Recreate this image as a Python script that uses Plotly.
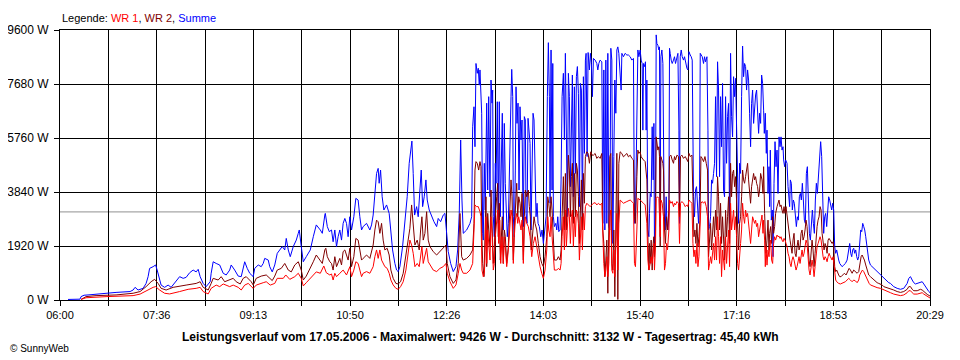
import plotly.graph_objects as go

# ---------------- data (minutes after 06:00, Watt) ----------------
x_tick_labels = ["06:00", "07:36", "09:13", "10:50", "12:26", "14:03", "15:40", "17:16", "18:53", "20:29"]
y_tick_values = [0, 1920, 3840, 5760, 7680, 9600]
total_minutes = 869
durchschnitt = 3132

t_summe = [8, 20, 21, 24, 28, 43, 56, 70, 73, 75, 78, 83, 86, 88, 89.5, 93, 95.5, 97, 99, 101, 104.5, 108, 111, 114.5, 116, 119.5, 123, 126, 129.5, 133, 136, 138, 140, 143, 146, 150, 151, 153, 156, 159.5, 163, 166, 169.5, 171, 174.5, 178, 181, 183, 184.5, 187, 189.5, 193, 194.5, 198, 201, 203, 204.5, 208, 209.5, 212, 214.5, 217, 219.5, 222, 224.5, 226, 228, 230, 233, 236, 238, 239, 241, 243, 246, 250, 253, 256, 260, 262, 264.5, 265, 267, 269,
           271.2, 272.8, 274.5, 276.2, 277.8, 279.5, 281.2, 282.8, 284.5, 286.2, 287.8, 289.5, 291.2, 293.5, 295.5, 297.8, 299.5, 301.2, 302.8, 306.2, 309.5, 311.2, 312.8, 314.5, 316.2, 317.8, 318.8, 320.2, 321.8, 323.5, 326.2, 328.8, 330.2, 332.2, 334.5, 336.2, 337.8, 339.5, 342.2, 344.5, 346.8, 348.8, 350.2, 351.5, 352.8, 354.2, 356.2, 357.8, 359.5, 360.8, 362.2, 363.8, 365.5, 366.8, 368.8, 371.2, 373.5, 376.2, 377.8, 380.2, 382.8, 384.5, 386.2, 387.8, 390.2, 392.8, 395.5, 397.2, 398.8, 400.2, 401.5,
           402.8, 406.2, 409.5, 411.2, 412.2, 413.5, 414.5, 415.5, 416.8, 417.8, 418.8, 419.5, 420.2, 421.2, 422.2, 422.8, 423.8, 424.8, 426.2, 427.2, 428.2, 429.5, 430.5, 431.5, 432.2, 432.8, 433.8, 434.8, 435.5, 436.8, 437.8, 438.8, 439.8, 440.8, 441.8, 442.8, 443.8, 444.8, 445.8, 446.8, 447.8, 448.8, 449.5, 450.5, 451.2, 452.2, 452.8, 453.8, 454.8, 455.5, 456.5, 457.5, 458.5, 459.5, 460.5, 461.5, 462.2, 462.8, 463.8, 464.8, 465.5, 466.5, 467.5, 468.5, 469.5, 470.5, 471.5, 472.5, 473.5, 474.5, 475.5, 476.5, 477.5, 478.8, 480.2, 481.5, 482.8, 484.2, 485.5, 486.8, 487.8, 488.8, 489.5, 490.5, 491.5, 492.2, 492.8, 493.8, 495.2, 496.2, 497.2, 498.2, 499.5, 500.5, 501.5, 502.8, 503.8, 504.8, 505.8, 506.8, 507.8, 508.8, 509.8, 510.8, 511.8, 512.8, 513.8, 514.8, 515.8, 516.8, 517.8, 518.8, 519.8, 520.8, 521.8, 522.8, 523.8, 524.8, 525.5, 526.5, 527.5, 528.8, 529.8, 530.8, 531.8, 532.8, 534.5, 536.2, 537.2, 538.2, 539.5, 541.2, 542.2, 543.2, 544.2, 545.2, 546.2, 547.2, 548.2, 549.2, 550.2, 551.2, 552.2, 553.2, 554.2, 555.2, 556.2, 557.2, 558.2,
           560.5, 561.2, 562.8, 564.5, 566.2, 567.8, 569.5, 571.2, 572.8, 573.8, 574.8, 576.2, 577.2, 578.2, 579.5, 580.5, 581.5, 582.2, 582.8, 583.8, 584.8, 585.5, 586.2, 587.2, 588.2, 588.8, 589.5, 590.5, 591.5, 592.5, 593.2, 593.8, 594.8, 595.5, 596.2, 597.2, 598.2, 598.8, 599.5, 600.2, 601.2, 602.2, 602.8, 603.5, 604.5, 605.5, 606.2, 607.2, 608.2, 608.8, 609.5, 610.5, 611.5, 612.8, 613.8, 614.8, 616.2, 617.2, 618.2, 618.8, 619.5, 620.5, 621.5, 622.8, 623.8, 624.8, 626.2, 627.2, 628.2, 629.5, 630.5, 631.5, 632.2, 632.8, 633.8, 634.8, 635.8, 636.8, 637.8, 638.8, 639.5, 640.5, 641.5, 642.8, 643.8, 644.8, 646.2, 647.2, 647.8, 648.8, 649.8, 650.8, 651.8, 652.8, 653.8, 654.8, 655.8, 656.8, 657.8, 658.8, 659.8, 660.8, 661.8, 662.8, 663.8, 664.8, 665.8, 666.8, 667.8, 668.8, 669.8, 670.8, 671.8, 672.8, 673.8, 674.8, 675.8, 676.8, 677.8, 678.8, 679.8, 680.8, 681.8, 682.8, 683.8, 684.8, 685.8, 686.8, 687.8, 688.8, 689.8, 690.8, 691.8, 692.8, 693.8, 694.8, 695.8, 696.8, 697.8, 698.8, 699.8, 700.8,
           701.8, 702.8, 703.5, 704.5, 705.5, 706.2, 707.2, 708.2, 708.8, 709.5, 710.5, 711.5, 712.2, 713.2, 714.2, 715.2, 716.2, 717.2, 718.2, 719.2, 720.2, 721.2, 722.2, 722.8, 723.8, 724.8, 726.2, 727.2, 728.2, 728.8, 729.5, 730.5, 731.5, 732.5, 733.5, 734.5, 735.5, 736.5, 737.5, 738.5, 739.5, 740.5, 741.5, 742.5, 743.5, 744.5, 745.5, 746.5, 747.5, 748.5, 749.5, 750.5, 751.5, 752.5, 753.5, 754.5, 755.5, 756.5, 757.5, 758.5, 759.2, 759.8, 760.8, 761.8, 762.8, 763.8, 764.8, 765.8, 766.8, 767.8, 768.8, 769.8, 770.8, 771.8, 772.8, 773.8, 774.8, 775.8, 776.8, 777.8, 778.8, 779.8, 781.2, 782.8, 784.5, 786.2, 787.8, 788.8, 789.8, 790.8, 791.8, 792.8, 793.8, 794.8, 795.8, 796.8, 797.8, 798.8, 799.8, 800.8, 801.8, 802.8, 803.8, 804.8, 805.8, 806.8, 807.8, 809.5, 811.2, 812.8, 814.5, 816.2, 817.8, 819.5, 821.2, 822.8, 824.5, 826.2, 827.8, 829.5, 831.2, 832.8, 836.2, 839.5, 842.8, 846.2, 847.8, 849.5, 851.2, 852.8, 854.5, 856.2, 857.8, 859.5, 861.2, 862.8, 864.5, 866.2, 867.8, 869]
summe = [20, 30, 120, 170, 180, 240, 270, 300, 355, 450, 355, 415, 590, 830, 1125, 1185, 1245, 1070, 770, 530, 450, 530, 450, 590, 650, 830, 770, 805, 970, 1065, 1000, 1090, 830, 590, 475, 650, 950, 1360, 1300, 1245, 950, 890, 1065, 1245, 1065, 850, 830, 1185, 1360, 1125, 950, 830, 1125, 1245, 1185, 1300, 1480, 1420, 1185, 1000, 1245, 1660, 1780, 1900, 1780, 2190, 1780, 1540, 1900, 2130, 2370, 2490, 1900, 1360, 1540, 1780, 2250, 2670, 2490, 2370, 3020, 3080, 2610, 2430,
         2490, 2070, 2490, 1900, 2250, 2490, 2130, 2725, 2900, 2725, 2250, 2960, 2490, 2960, 3615, 3555, 2960, 2490, 2610, 2725, 2490, 2670, 3020, 3910, 4500, 4680, 4150, 4620, 3670, 3200, 3380, 3080, 2610, 1780, 1300, 1065, 1010, 1185, 1900, 2725, 3670, 4860, 5215, 5650, 4500, 3020, 3320, 2960, 3910, 4620, 3320, 3670, 4270, 3555, 3200, 2960, 2785, 2610, 2900, 2785, 3020, 3080, 2250, 1720, 1300, 1010, 1185, 1780, 3080, 5690, 3555,
         2370, 2490, 2725, 2960, 6160, 6870, 5450, 8410, 8060, 8240, 7640, 8180, 7465, 6640, 2370, 2130, 4860, 3200, 7000, 3910, 7230, 3670, 7820, 7000, 7465, 2960, 2250, 4860, 4150, 7050, 2725, 7050, 2960, 4620, 6640, 2490, 6280, 4150, 2960, 2250, 2725, 4860, 6040, 7230, 8200, 7230, 2960, 2250, 4620, 7580, 6280, 7000, 3910, 6870, 5690, 6400, 3910, 2610, 6520, 6400, 3080, 2725, 6460, 5800, 5570, 2490, 4385, 6640, 6400, 4620, 2960, 3440, 2725, 2610, 2250, 2490, 2010, 2490, 2960, 7230, 9150, 7230, 3440, 8890, 3910, 8410, 2960, 2610, 2725, 2490, 2960, 2430, 2490, 4270, 7230, 8060, 5690, 8770, 4860, 2960, 8060, 7230, 4030, 6520, 8000, 3670, 7580, 4500, 7940, 8300, 7350, 3320, 7700, 7465, 2960, 7940, 5215, 8530, 8770, 5100, 8800, 8180, 8770, 8410, 7230, 8590, 8530, 8410, 8180, 8410, 8530, 8470, 2725, 8180, 2490, 8530, 2725, 8770, 2610, 2490, 8950, 8530, 2010, 5100, 7820, 6640, 8890, 9000, 8770,
         7465, 8770, 8650, 8770, 8710, 8710, 8650, 8530, 8590, 2725, 2960, 6520, 8890, 8650, 8890, 8530, 8410, 6040, 8410, 8300, 8470, 6040, 7820, 2490, 2250, 3080, 3790, 3670, 6160, 4270, 6280, 1900, 2960, 9426, 9120, 9060, 8890, 9000, 2610, 8650, 8890, 8410, 6040, 3080, 2490, 3670, 2725, 2490, 3080, 8950, 8770, 8530, 8410, 8530, 8650, 8410, 8590, 8770, 6040, 2725, 8650, 8890, 8650, 8530, 8650, 8410, 8240, 8180, 8830, 8710, 8650, 8530, 4500, 3670, 2960, 3910, 4030, 3080, 2725, 3670, 8770, 8710, 8650, 8410, 8650, 8470, 8650, 6040, 2490, 2610, 2960, 4270, 4150, 4500, 4860, 7230, 4385, 8470, 7465, 4385, 7230, 5450, 7700, 3910, 3670, 7230, 4860, 6520, 6990, 2725, 8770, 6520, 5800, 7940, 7230, 7880, 6280, 3910, 2725, 4860, 4500, 7230, 9030, 7940, 8410, 8300, 7465, 8180, 7820, 6640, 5450, 6990, 7465, 6280, 6870, 7290, 7465, 6280, 5925, 6640, 6280, 8000,
         7700, 6750, 5925, 6640, 5215, 6040, 3790, 4740, 3320, 5330, 2840, 3200, 1540, 4150, 5630, 4740, 5330, 3790, 5800, 5450, 5800, 5330, 5450, 4980, 4740, 4980, 4860, 4030, 3555, 3320, 4270, 4150, 3200, 3555, 3440, 3080, 2610, 2960, 2840, 3670, 3790, 3555, 4150, 3555, 2840, 2725, 4500, 4740, 3320, 2370, 2130, 2610, 3200, 2725, 2370, 3555, 4150, 3790, 4270, 4860, 5330, 5630, 5100, 3080, 2370, 2960, 3080, 2610, 3320, 3670, 3555, 3320, 3200, 3440, 3200, 1900, 1660, 1780, 1540, 1420, 1300, 1240, 1185, 1240, 1300, 1420, 1900, 2010, 1660, 1540, 1780, 1840, 1660, 1780, 1540, 1420, 1540, 2130, 2490, 2430, 2725, 2610, 2490, 2250, 1900, 1660, 1420, 1245, 1185, 1125, 1065, 1010, 950, 890, 830, 770, 710, 650, 615, 590, 535, 475, 415, 380, 415, 590, 770, 830, 710, 615, 570, 590, 615, 650, 650, 570, 475, 355, 300, 260]

t_wr2 = [21, 26, 36, 56, 73, 80, 86, 91, 94.5, 98, 101, 106, 113, 119.5, 126, 136, 140, 143, 148, 151, 153, 158, 161, 164.5, 169.5, 173, 176, 180, 183, 186, 191, 193, 196, 201, 206, 209.5, 212, 214.5, 217, 221, 224.5, 228, 231, 234.5, 238, 241, 243, 246, 250, 253, 256, 260, 262, 264.5, 265.5, 267, 269.5,
         271.2, 272.8, 274.5, 276.2, 279.5, 281.2, 282.8, 284.5, 287.8, 289.5, 291.2, 293.5, 295.5, 297.8, 299.5, 301.2, 302.8, 306.2, 309.5, 312.8, 314.5, 316.2, 317.8, 319.5, 321.2, 322.8, 324.5, 326.8, 328.8, 330.5, 332.8, 335.5, 337.8, 340.2, 342.8, 345.5, 347.8, 349.5, 351.2, 352.8, 354.5, 356.8, 358.8, 360.2, 361.5, 362.8, 364.5, 366.2, 367.8, 369.5, 372.8, 376.2, 379.5, 382.8, 385.5, 386.8, 389.5, 392.8, 395.5, 397.8, 399.5, 401.2,
         402.8, 406.2, 409.5, 412.2, 413.5, 414.5, 415.5, 416.8, 418.2, 419.5, 420.5, 421.2, 422.2, 423.5, 424.5, 425.5, 426.2, 427.2, 428.2, 429.5, 430.5, 431.5, 432.8, 433.8, 434.8, 436.2, 437.2, 437.8, 438.8, 439.8, 440.8, 441.8, 442.8, 443.8, 444.8, 446.2, 447.8, 449.5, 450.5, 451.5, 452.8, 453.8, 454.8, 456.2, 457.2, 458.2, 459.5, 460.5, 461.5, 462.8, 463.8, 464.8, 466.2, 467.8, 468.8, 469.8, 470.8, 472.2, 473.5, 474.5, 476.2, 477.8, 479.5, 481.2, 482.8, 484.5, 486.2, 487.2, 488.2, 489.5, 490.5, 491.5, 492.8, 493.8, 496.2, 497.8, 499.5, 500.5, 501.5, 502.8, 503.8, 504.8, 505.8, 506.8, 507.8, 508.8, 509.8, 510.8, 511.8, 512.8, 513.8, 514.8, 515.8, 516.8, 517.8, 518.8, 519.8, 520.8, 521.8, 522.8, 523.8, 524.8, 526.2, 527.5, 528.8, 530.2, 531.5, 532.8, 534.5, 536.2, 537.8, 539.5, 541.2, 542.2, 543.2, 544.2, 545.2, 546.2, 547.2, 548.2, 549.2, 550.2, 551.2, 552.2, 553.2, 554.2, 555.2, 556.2, 557.2, 558.2,
         559.5, 561.2, 562.8, 564.5, 566.2, 567.8, 569.5, 571.2, 572.8, 573.8, 574.8, 576.2, 577.2, 578.2, 579.5, 580.5, 581.5, 582.8, 584.5, 585.5, 586.2, 587.2, 588.2, 588.8, 589.5, 590.5, 591.5, 592.5, 593.2, 593.8, 594.8, 595.5, 596.2, 597.2, 598.2, 598.8, 599.5, 600.2, 601.2, 602.2, 602.8, 603.8, 604.8, 605.8, 606.8, 608.2, 608.8, 610.2, 611.5, 612.8, 613.8, 614.8, 616.2, 617.8, 618.8, 619.8, 621.2, 622.8, 624.5, 626.2, 627.2, 628.2, 629.5, 631.2, 632.2, 633.2, 634.2, 635.2, 636.2, 637.2, 638.2, 639.2, 640.2, 641.5, 642.8, 644.2, 645.5, 646.8, 647.8, 648.8, 649.8, 650.8, 651.8, 652.8, 653.8, 654.8, 655.8, 656.8, 657.8, 658.8, 659.8, 660.8, 661.8, 662.8, 663.8, 664.8, 665.8, 666.8, 667.8, 668.8, 669.8, 670.8, 671.8, 672.8, 673.8, 674.8, 675.8, 676.8, 677.8, 678.8, 679.8, 680.8, 681.8, 682.8, 683.8, 684.8, 685.8, 686.8, 687.8, 688.8, 689.8, 690.8, 691.8, 692.8, 693.8, 694.8, 695.8, 696.8, 697.8, 698.8, 699.8,
         701.2, 702.2, 702.8, 703.8, 704.5, 705.2, 706.2, 707.2, 708.2, 708.8, 709.8, 710.8, 711.8, 712.8, 713.8, 714.8, 716.2, 717.2, 718.2, 719.2, 720.2, 721.2, 722.2, 723.2, 724.2, 725.2, 726.2, 727.2, 728.2, 729.2, 730.2, 731.2, 732.2, 733.2, 734.2, 735.2, 736.2, 737.2, 738.2, 739.2, 740.2, 741.2, 742.2, 743.2, 744.2, 745.2, 746.2, 747.2, 748.2, 749.2, 750.2, 751.2, 752.2, 753.2, 754.2, 755.2, 756.2, 757.2, 758.2, 759.2, 760.2, 761.2, 762.2, 763.2, 764.2, 765.2, 766.2, 767.2, 768.2, 769.5, 771.2, 772.2, 772.8, 773.8, 774.8, 775.8, 776.8, 777.8, 778.8, 780.2, 781.8, 783.5, 785.2, 786.8, 788.2, 789.5, 791.2, 792.8, 794.5, 796.2, 797.8, 798.8, 800.2, 801.2, 802.2, 803.5, 804.8, 806.2, 807.8, 809.5, 811.2, 812.8, 814.5, 816.2, 817.8, 819.5, 821.2, 822.8, 826.2, 829.5, 832.8, 836.2, 839.5, 842.8, 846.2, 847.8, 849.5, 851.2, 852.8, 856.2, 859.5, 861.2, 862.8, 866.2, 869]
wr2 = [20, 120, 155, 180, 240, 300, 475, 650, 735, 590, 415, 355, 450, 500, 530, 590, 650, 450, 355, 590, 770, 710, 830, 650, 710, 770, 650, 570, 770, 830, 650, 530, 770, 850, 890, 770, 690, 850, 1065, 1125, 1300, 1065, 1000, 1245, 1360, 1065, 710, 850, 1125, 1360, 1600, 1420, 1300, 1780, 1840, 1540, 1360,
       1300, 1065, 1540, 1185, 1480, 1245, 1720, 1780, 1420, 1840, 1185, 1540, 2190, 2130, 1780, 1420, 1480, 1600, 1480, 1955, 2490, 2840, 2780, 2370, 2725, 2130, 1780, 1840, 1600, 1065, 770, 590, 570, 650, 950, 1660, 2250, 2550, 3380, 2490, 1955, 2130, 1780, 2490, 2960, 2130, 2370, 3140, 2130, 1900, 1720, 1600, 1720, 1840, 1955, 1300, 830, 590, 710, 1300, 3080, 1540,
       1420, 1480, 1600, 1780, 2725, 4620, 4920, 4860, 4620, 4920, 4740, 2490, 1300, 830, 2010, 3670, 1185, 3080, 2490, 1900, 3910, 2960, 1300, 1780, 2960, 3670, 4150, 2250, 3440, 1420, 2490, 2960, 1300, 2490, 2250, 1300, 1900, 3440, 4270, 3670, 1420, 2490, 3200, 4150, 2960, 3670, 3440, 2960, 3790, 1420, 2960, 3910, 3670, 3910, 3320, 2960, 1780, 2490, 2960, 2725, 2490, 2010, 1540, 1300, 1185, 1540, 2250, 3670, 3440, 2960, 3670, 3200, 2250, 1420, 1420, 1540, 1420, 1780, 2960, 4385, 2490, 4500, 2490, 3670, 5150, 4620, 2960, 4385, 4860, 2725, 4500, 2960, 4860, 4620, 3670, 2010, 3440, 4270, 2490, 4500, 3440, 5100, 5270, 5210, 4860, 5270, 5150, 5150, 5210, 5035, 5100, 5035, 5210, 2490, 2010, 830, 1420, 2130, 240, 2010, 5100, 5210, 1300, 1065, 2490, 120, 2960, 5215, 20, 4860,
       5270, 5210, 5090, 5150, 5210, 5090, 5150, 5035, 4980, 2960, 2725, 4385, 5330, 5210, 5270, 5090, 5035, 4980, 4920, 4620, 4270, 2250, 1065, 2010, 1300, 2130, 1065, 2010, 2250, 1540, 2490, 5800, 5570, 5330, 5450, 5100, 1900, 5100, 4980, 4860, 4620, 2490, 2010, 2960, 2490, 3200, 5100, 5150, 4980, 4860, 5100, 4980, 5150, 5100, 2960, 5100, 5150, 5035, 5100, 4980, 4920, 5215, 5100, 5150, 2960, 2250, 2490, 2010, 2725, 1900, 2250, 2840, 5100, 5035, 4920, 5100, 4860, 4620, 1540, 2250, 2725, 1780, 2610, 2960, 2250, 3200, 2490, 4385, 3670, 2490, 3440, 2010, 2960, 1900, 1420, 3200, 2250, 2960, 3670, 2010, 4860, 3670, 4500, 4620, 4030, 4385, 3670, 2490, 1780, 2725, 2960, 3670, 4620, 4270, 4150, 4385, 4620, 4860, 4270, 3910, 3440, 4030, 4385, 4500, 4270, 4385, 4150, 4030, 3670, 3910, 4500,
       4270, 3790, 4740, 3080, 2610, 1660, 2130, 2840, 1780, 2370, 2610, 2010, 2960, 2370, 2610, 3080, 3320, 3440, 3555, 3320, 3380, 3200, 3080, 3320, 3080, 3320, 2960, 2610, 2490, 2130, 1900, 1660, 2130, 2370, 1660, 1540, 1900, 2130, 1780, 1900, 2370, 2490, 2130, 2250, 2490, 2840, 2610, 1900, 1420, 1185, 1660, 2130, 1780, 1185, 1660, 2250, 2610, 2840, 2960, 3320, 3200, 2370, 1900, 1780, 2010, 1900, 1660, 2130, 2190, 2130, 2010, 2070, 1900, 1185, 1010, 1065, 950, 890, 830, 830, 890, 950, 890, 1010, 1125, 1065, 950, 1065, 1010, 950, 1010, 1300, 1540, 1600, 1540, 1420, 1245, 1065, 890, 830, 770, 710, 650, 615, 590, 570, 535, 475, 440, 390, 355, 300, 270, 300, 380, 475, 475, 380, 330, 330, 380, 355, 300, 200, 140]

t_wr1 = [21, 26, 46, 73, 80, 86, 93, 95.5, 99.5, 104.5, 109.5, 119.5, 128, 136, 140, 143, 148, 151, 156, 159.5, 163, 169.5, 173, 178, 181, 184.5, 188, 193, 196, 203, 206, 210, 214.5, 217, 223, 225.5, 229.5, 234.5, 238, 241, 243, 246, 250, 253.5, 256, 260, 263.5, 266, 269.5,
         271.2, 272.8, 274.5, 276.2, 279.5, 282.8, 286.2, 287.8, 289.5, 291.2, 293.5, 295.5, 297.8, 299.5, 301.2, 302.8, 306.2, 309.5, 312.8, 314.5, 316.2, 317.8, 319.5, 321.2, 322.8, 324.5, 326.8, 328.8, 330.5, 332.8, 335.5, 337.8, 340.2, 342.8, 345.5, 347.8, 349.5, 351.2, 352.8, 354.5, 356.8, 358.8, 360.2, 361.5, 362.8, 364.5, 366.2, 367.8, 369.5, 372.8, 376.2, 379.5, 382.8, 385.5, 386.8, 389.5, 392.8, 395.5, 397.8, 399.5, 401.2,
         402.8, 406.2, 409.5, 412.2, 413.5, 414.5, 416.2, 417.8, 419.5, 420.5, 421.5, 422.8, 423.8, 424.5, 425.5, 426.2, 427.2, 428.2, 429.5, 430.5, 431.5, 432.8, 433.8, 434.8, 436.2, 437.2, 438.2, 439.2, 440.2, 441.5, 442.8, 443.8, 444.8, 446.2, 447.8, 449.5, 450.5, 451.5, 452.8, 453.8, 454.8, 456.2, 457.2, 458.2, 459.5, 460.5, 461.5, 462.8, 463.8, 464.8, 466.2, 467.8, 469.5, 471.2, 472.8, 474.5, 476.2, 477.8, 479.5, 481.2, 482.8, 484.5, 486.2, 487.2, 488.2, 489.5, 490.5, 491.5, 492.8, 493.8, 496.2, 497.8, 499.5, 500.5, 501.5, 502.8, 503.8, 504.8, 505.8, 506.8, 507.8, 508.8, 509.8, 510.8, 511.8, 512.8, 513.8, 514.8, 515.8, 516.8, 517.8, 518.8, 519.8, 520.8, 521.8, 522.8, 523.8, 524.8, 526.2, 527.8, 529.5, 531.2, 532.8, 534.5, 536.2, 537.8, 539.5, 541.2, 542.2, 543.2, 544.2, 545.2, 546.2, 547.2, 548.2, 549.2, 550.2, 551.2, 552.2, 553.2, 554.2, 555.2, 556.2, 557.2, 558.2,
         559.5, 562.8, 566.2, 569.5, 571.2, 572.8, 573.8, 574.8, 576.2, 577.2, 579.5, 581.5, 582.8, 584.5, 585.5, 586.2, 587.2, 588.2, 589.5, 590.5, 591.5, 592.5, 593.2, 593.8, 594.8, 595.5, 596.8, 598.2, 599.5, 600.2, 601.5, 602.8, 603.8, 604.8, 605.8, 606.8, 608.2, 608.8, 610.2, 611.5, 612.8, 613.8, 614.8, 616.2, 617.8, 618.8, 619.8, 621.2, 622.8, 624.5, 626.2, 627.2, 628.2, 629.5, 631.2, 632.2, 633.2, 634.2, 635.2, 636.2, 637.2, 638.2, 639.2, 640.2, 641.5, 642.8, 644.2, 645.5, 646.8, 647.8, 648.8, 649.8, 650.8, 651.8, 652.8, 653.8, 654.8, 655.8, 656.8, 657.8, 658.8, 659.8, 660.8, 661.8, 662.8, 663.8, 664.8, 665.8, 666.8, 667.8, 668.8, 669.8, 670.8, 671.8, 672.8, 673.8, 674.8, 675.8, 676.8, 677.8, 678.8, 679.8, 680.8, 681.8, 682.8, 683.8, 684.8, 685.8, 686.8, 687.8, 688.8, 689.8, 690.8, 691.8, 692.8, 693.8, 694.8, 695.8, 696.8, 697.8, 698.8,
         701.2, 702.2, 702.8, 703.8, 704.5, 705.2, 706.2, 707.2, 708.2, 708.8, 709.8, 710.8, 711.8, 712.8, 713.8, 714.8, 716.2, 717.2, 718.2, 719.2, 720.2, 721.2, 722.2, 723.2, 724.2, 725.2, 726.2, 727.2, 728.2, 729.2, 730.2, 731.2, 732.2, 733.2, 734.2, 735.2, 736.2, 737.2, 738.2, 739.2, 740.2, 741.2, 742.2, 743.2, 744.2, 745.2, 746.2, 747.2, 748.2, 749.2, 750.2, 751.2, 752.2, 753.2, 754.2, 755.2, 756.2, 757.2, 758.2, 759.2, 760.2, 761.2, 762.2, 763.2, 764.2, 765.2, 766.2, 767.2, 768.2, 769.5, 771.2, 772.2, 772.8, 773.8, 774.8, 775.8, 776.8, 777.8, 779.5, 781.2, 782.8, 784.5, 786.2, 787.8, 789.5, 791.2, 792.8, 794.5, 796.2, 797.8, 798.8, 800.2, 801.5, 802.8, 804.2, 805.5, 806.8, 808.2, 809.5, 812.8, 816.2, 819.5, 822.8, 826.2, 829.5, 832.8, 836.2, 839.5, 842.8, 846.2, 847.8, 849.5, 851.2, 852.8, 856.2, 859.5, 861.2, 862.8, 866.2, 869]
wr1 = [20, 80, 120, 155, 210, 330, 450, 475, 355, 240, 215, 300, 380, 415, 450, 300, 215, 415, 530, 475, 570, 475, 530, 450, 355, 530, 590, 415, 530, 615, 650, 530, 590, 770, 770, 890, 735, 830, 950, 770, 500, 615, 770, 890, 1000, 950, 1210, 970, 890,
       925, 710, 950, 830, 950, 1065, 890, 1010, 1185, 830, 1065, 1360, 1300, 1065, 830, 950, 1010, 950, 1185, 1540, 1780, 1480, 1780, 1420, 1300, 1185, 1125, 950, 710, 535, 415, 380, 475, 650, 1065, 1780, 2130, 1955, 1660, 1185, 1300, 1185, 1600, 1900, 1300, 1540, 1840, 1360, 1245, 1065, 1010, 1125, 1185, 1300, 950, 650, 415, 535, 950, 1300, 1065,
       950, 950, 1065, 1300, 2250, 3380, 3320, 3320, 3140, 2960, 1065, 830, 950, 1420, 2960, 1300, 2490, 2010, 1420, 2960, 2370, 1065, 1300, 2250, 2960, 3200, 2010, 2840, 1300, 2250, 1300, 2250, 1900, 1185, 1780, 2960, 3200, 2960, 1300, 2250, 2840, 3080, 2725, 2960, 2610, 2490, 2840, 1300, 2490, 2960, 2725, 2610, 2250, 1540, 2010, 2250, 1900, 1540, 1185, 950, 770, 1065, 1780, 2960, 2490, 2250, 2960, 2250, 1540, 1065, 1065, 1125, 1065, 1300, 2250, 2960, 1780, 3200, 1900, 2725, 3260, 2960, 2010, 2960, 3200, 1900, 2960, 2250, 3200, 3080, 2725, 1420, 2490, 2960, 1780, 3080, 2490, 3320, 3440, 3380, 3320, 3380, 3440, 3460, 3380, 3440, 3380, 3440, 2010, 1300, 830, 1065, 1540, 830, 1300, 2960, 3200, 1065, 950, 1780, 830, 2250, 3080, 1065, 2725,
       3555, 3440, 3500, 3555, 3500, 3440, 1300, 1185, 2490, 3615, 3555, 3500, 3440, 3380, 2960, 2725, 1420, 1065, 1300, 1540, 1300, 1780, 2010, 1065, 1900, 3615, 3670, 3615, 2250, 3555, 3440, 2960, 1065, 1300, 2010, 1780, 2490, 3555, 3440, 3500, 3320, 3440, 3380, 3500, 3440, 2010, 3440, 3500, 3440, 3320, 3380, 3320, 3555, 3500, 3440, 2010, 1540, 1780, 1300, 2010, 1185, 1540, 2490, 3440, 3500, 3440, 3500, 3320, 2960, 1065, 1300, 1540, 1300, 1780, 2010, 1420, 2250, 1420, 2960, 2250, 1300, 2250, 830, 1780, 1300, 1065, 2250, 1300, 1900, 2490, 1185, 3440, 2490, 2960, 3200, 2490, 2960, 2250, 1300, 1065, 1780, 2010, 2490, 3440, 2960, 2725, 3200, 2960, 3080, 2725, 2490, 2010, 2490, 2960, 2840, 2725, 2840, 2610, 2725, 2250, 2490,
       3020, 2370, 2840, 2130, 1185, 1900, 1240, 1780, 1540, 1900, 2130, 1420, 1300, 2010, 2250, 2130, 2310, 2250, 2270, 2190, 2250, 2130, 2070, 2190, 2130, 2010, 1900, 1660, 1540, 1300, 1185, 1420, 1540, 1420, 1185, 1065, 1185, 1420, 1540, 1300, 1660, 1780, 1540, 1660, 1900, 2130, 2010, 1420, 1065, 890, 1185, 1420, 1185, 830, 1185, 1660, 1900, 2010, 2130, 2250, 2130, 1780, 1540, 1420, 1540, 1480, 1360, 1540, 1660, 1540, 1420, 1540, 1300, 830, 710, 650, 615, 590, 570, 590, 615, 650, 710, 770, 710, 650, 710, 680, 615, 710, 890, 1010, 1065, 1010, 890, 770, 650, 590, 535, 475, 440, 415, 355, 300, 260, 210, 180, 155, 180, 260, 330, 330, 260, 210, 210, 260, 260, 210, 120, 70]

# ---------------- figure ----------------
grid_step = total_minutes / 18
x_tickvals = [i * grid_step for i in range(19)]
x_ticktext = []
for i in range(19):
    x_ticktext.append(x_tick_labels[i // 2] if i % 2 == 0 else "")

fig = go.Figure()
fig.add_trace(go.Scatter(x=t_summe, y=summe, mode="lines", name="Summe",
                         line=dict(color="#0000FF", width=1), hoverinfo="skip"))
fig.add_trace(go.Scatter(x=t_wr2, y=wr2, mode="lines", name="WR 2",
                         line=dict(color="#800000", width=1), hoverinfo="skip"))
fig.add_trace(go.Scatter(x=t_wr1, y=wr1, mode="lines", name="WR 1",
                         line=dict(color="#FF0000", width=1), hoverinfo="skip"))

fig.add_shape(type="line", xref="x", yref="y", x0=0, x1=total_minutes,
              y0=durchschnitt, y1=durchschnitt, layer="below",
              line=dict(color="#909090", width=1))

font_main = "Liberation Sans, Arial, sans-serif"

# the page body has an 8px default margin; figure is sized/placed to compensate
fig.update_layout(
    width=952, height=352,
    margin=dict(l=52, r=30, t=22, b=60, autoexpand=False),
    paper_bgcolor="white", plot_bgcolor="white",
    showlegend=False,
    font=dict(family=font_main, size=11, color="black"),
    xaxis=dict(range=[0, total_minutes], tickmode="array", tickvals=x_tickvals, ticktext=x_ticktext,
               showgrid=True, gridcolor="black", gridwidth=1, zeroline=False, automargin=False,
               showline=True, linecolor="black", linewidth=1, mirror=True,
               ticks="outside", ticklen=5, tickcolor="black", tickfont=dict(size=11)),
    yaxis=dict(range=[0, 9600], tickmode="array", tickvals=y_tick_values,
               ticktext=[f"{v} W" for v in y_tick_values], automargin=False,
               showgrid=True, gridcolor="black", gridwidth=1, zeroline=False,
               showline=True, linecolor="black", linewidth=1, mirror=True,
               ticks="outside", ticklen=5, tickcolor="black", tickfont=dict(size=12),
               ticklabelstandoff=3),
)

fig.add_annotation(xref="paper", yref="paper", x=0, y=1, yshift=4, xanchor="left", yanchor="bottom",
                   showarrow=False, font=dict(size=11, family=font_main),
                   text='Legende: <span style="color:#FF0000">WR 1</span>, '
                        '<span style="color:#800000">WR 2</span>, '
                        '<span style="color:#0000FF">Summe</span>')
fig.add_annotation(xref="paper", yref="paper", x=0.4828, y=0, yshift=-37, xanchor="center", yanchor="middle",
                   showarrow=False, font=dict(size=12, family=font_main, color="black"),
                   text="<b>Leistungsverlauf vom 17.05.2006 - Maximalwert: 9426 W - Durchschnitt: 3132 W - Tagesertrag: 45,40 kWh</b>")
fig.add_annotation(xref="paper", yref="paper", x=0, xshift=-52, y=0, yshift=-48, xanchor="left", yanchor="middle",
                   showarrow=False, font=dict(size=10, family=font_main),
                   text="© SunnyWeb")

fig.write_html("out.html", config={"displayModeBar": False})
